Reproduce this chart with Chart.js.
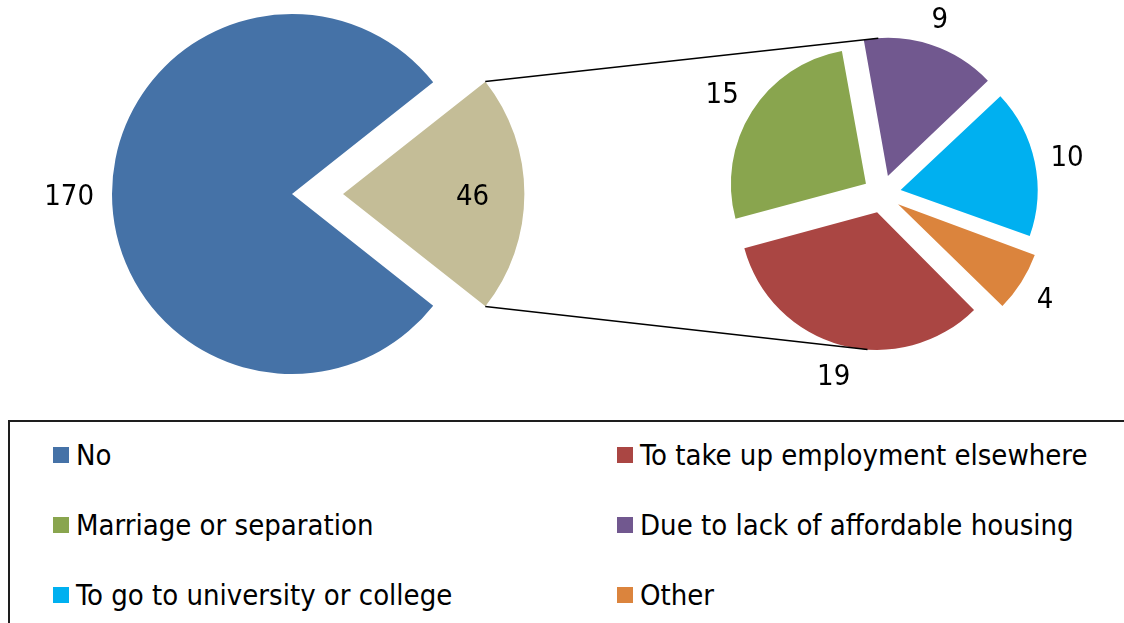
<!DOCTYPE html>
<html>
<head>
<meta charset="utf-8">
<script src="https://cdn.jsdelivr.net/npm/chart.js@4.4.1/dist/chart.umd.min.js"></script>
<style>
  html, body { margin: 0; padding: 0; background: #fff; }
  body { width: 1124px; height: 623px; overflow: hidden; position: relative;
         font-family: "DejaVu Sans Condensed", "DejaVu Sans", sans-serif; }
  .plot { position: absolute; left: 0; top: 0; width: 1124px; height: 410px; }
  #legendBox { position: absolute; left: 8px; top: 420px; width: 1200px; height: 300px;
               border: 2px solid #1e1e1e; box-sizing: border-box; }
  .lg-item { position: absolute; height: 40px; display: flex; align-items: center;
             font-size: 29px; color: #000; white-space: nowrap; }
  .lg-item i { display: inline-block; width: 16px; height: 16px; margin-right: 7px; }
</style>
</head>
<body>
<div class="plot"><canvas id="mainPie"></canvas></div>
<div class="plot"><canvas id="splitPie"></canvas></div>
<div id="legendBox"></div>

<script>
/* first pie: "No" against everyone who gave a reason */
const mainLabels = ['No', 'Yes'];
const mainValues = [170, 46];

/* second pie: breakdown of the reasons */
const splitLabels = [
  'To take up employment elsewhere',
  'Marriage or separation',
  'Due to lack of affordable housing',
  'To go to university or college',
  'Other'
];
const splitValues = [19, 15, 9, 10, 4];

const mainColors = ['#4572A7', '#C4BD97'];
const splitColors = ['#AA4643', '#89A54E', '#71588F', '#00B0F0', '#DB843D'];

const LABEL_FONT = '29px "DejaVu Sans Condensed", "DejaVu Sans", sans-serif';

// ArcElement.draw shifts an exploded slice by offset/4 and grows small slices a bit
function arcShift(arc) {
  return (arc.options.offset || 0) / 4;
}
function drawnRadius(arc) {
  const circ = arc.endAngle - arc.startAngle;
  return arc.outerRadius + arcShift(arc) * (1 - Math.sin(Math.min(Math.PI, circ)));
}
function apex(arc) {
  const mid = (arc.startAngle + arc.endAngle) / 2;
  const s = arcShift(arc);
  return { x: arc.x + Math.cos(mid) * s, y: arc.y + Math.sin(mid) * s };
}

// value labels: inside the slice, or outside with the text box kept `gap` px off the rim
const sliceLabels = {
  id: 'sliceLabels',
  afterDatasetsDraw(chart, args, opts) {
    const meta = chart.getDatasetMeta(0);
    const values = chart.data.datasets[0].data;
    const ctx = chart.ctx;
    ctx.save();
    ctx.font = LABEL_FONT;
    ctx.fillStyle = '#000';
    ctx.textAlign = 'center';
    ctx.textBaseline = 'alphabetic';
    meta.data.forEach((arc, i) => {
      const txt = String(values[i]);
      const m = ctx.measureText(txt);
      const asc = m.actualBoundingBoxAscent;
      const mid = (arc.startAngle + arc.endAngle) / 2;
      const cos = Math.cos(mid), sin = Math.sin(mid);
      const p = apex(arc);
      let d;
      if ((opts.inside || []).includes(i)) {
        d = arc.outerRadius * 0.72;
      } else {
        const boxW = m.width + 4, boxH = 28;
        d = drawnRadius(arc) + opts.gap + Math.abs(cos) * boxW / 2 + Math.abs(sin) * boxH / 2;
      }
      ctx.fillText(txt, p.x + cos * d, p.y + sin * d + asc / 2);
    });
    ctx.restore();
  }
};

let mainChart = null;

// the two lines joining the exploded slice to the breakdown pie
const joinLines = {
  id: 'joinLines',
  afterDatasetsDraw(chart, args, opts) {
    if (!mainChart) return;
    const src = mainChart.getDatasetMeta(0).data[1];
    const sp = apex(src);
    const sr = drawnRadius(src);
    const arcs = chart.getDatasetMeta(0).data;

    function pointAt(a) {
      for (const arc of arcs) {
        let t = a;
        while (t < arc.startAngle) t += Math.PI * 2;
        if (t <= arc.endAngle) {
          const p = apex(arc);
          const r = drawnRadius(arc);
          return { x: p.x + Math.cos(a) * r, y: p.y + Math.sin(a) * r };
        }
      }
      return { x: arcs[0].x, y: arcs[0].y };
    }

    const tilt = opts.tilt * Math.PI / 180;
    const ends = [
      [{ x: sp.x + Math.cos(src.startAngle) * sr, y: sp.y + Math.sin(src.startAngle) * sr }, pointAt(-Math.PI / 2 - tilt)],
      [{ x: sp.x + Math.cos(src.endAngle) * sr, y: sp.y + Math.sin(src.endAngle) * sr }, pointAt(Math.PI / 2 + tilt)]
    ];
    const ctx = chart.ctx;
    ctx.save();
    ctx.strokeStyle = '#000';
    ctx.lineWidth = 1.5;
    ends.forEach(([a, b]) => {
      ctx.beginPath();
      ctx.moveTo(a.x, a.y);
      ctx.lineTo(b.x, b.y);
      ctx.stroke();
    });
    ctx.restore();
  }
};

const otherShare = mainValues[1] / (mainValues[0] + mainValues[1]);

mainChart = new Chart(document.getElementById('mainPie'), {
  type: 'pie',
  data: {
    labels: mainLabels,
    datasets: [{
      data: mainValues,
      backgroundColor: mainColors,
      borderWidth: 0,
      offset: [0, 204]
    }]
  },
  options: {
    responsive: true,
    maintainAspectRatio: false,
    animation: false,
    events: [],
    radius: 180,
    // keep the grouped slice centred on the right-hand side
    rotation: 90 + otherShare * 180,
    layout: { padding: { left: 0, right: 540, top: 0, bottom: 22 } },
    plugins: {
      legend: { display: false },
      tooltip: { enabled: false },
      sliceLabels: { gap: 16, inside: [1] }
    }
  },
  plugins: [sliceLabels]
});

new Chart(document.getElementById('splitPie'), {
  type: 'pie',
  data: {
    labels: splitLabels,
    datasets: [{
      data: splitValues,
      backgroundColor: splitColors,
      borderWidth: 0,
      offset: 76
    }]
  },
  options: {
    responsive: true,
    maintainAspectRatio: false,
    animation: false,
    events: [],
    radius: 135,
    rotation: 135,
    layout: { padding: { left: 682, right: 42, top: 0, bottom: 22 } },
    plugins: {
      legend: { display: false },
      tooltip: { enabled: false },
      sliceLabels: { gap: 12 },
      joinLines: { tilt: 4 }
    }
  },
  plugins: [sliceLabels, joinLines]
});

// legend: two columns, row by row
const legendLabels = [mainLabels[0], ...splitLabels];
const legendColors = [mainColors[0], ...splitColors];
legendLabels.forEach((txt, i) => {
  const item = document.createElement('div');
  item.className = 'lg-item';
  item.style.left = (i % 2 ? 617 : 53) + 'px';
  item.style.top = (435 + 70 * Math.floor(i / 2)) + 'px';
  item.innerHTML = `<i style="background:${legendColors[i]}"></i><span>${txt}</span>`;
  document.body.appendChild(item);
});
</script>
</body>
</html>
